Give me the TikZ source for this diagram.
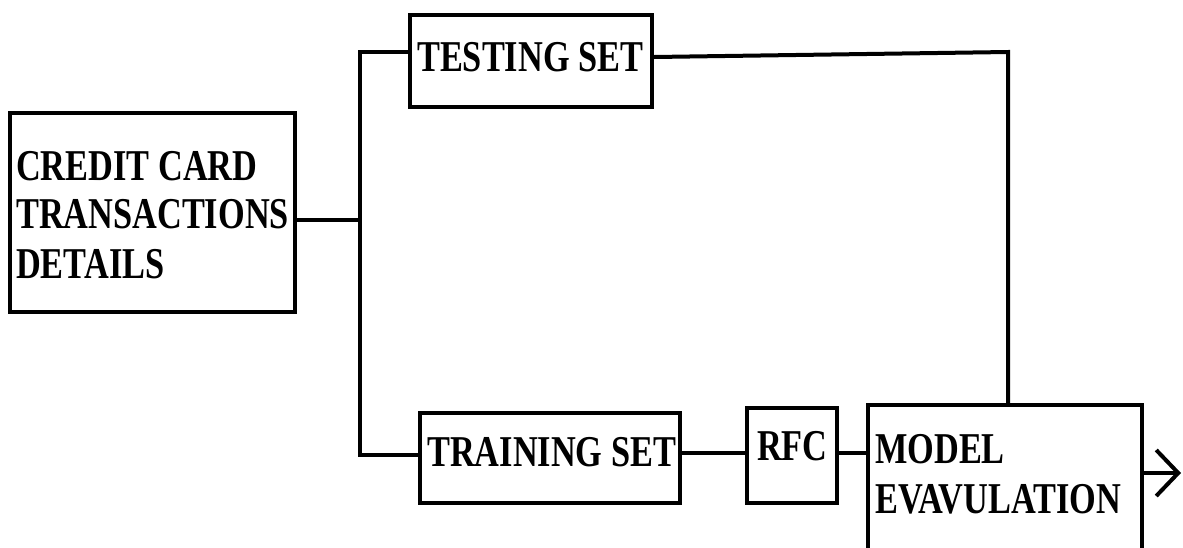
\documentclass[tikz,border=0pt]{standalone}
\usepackage{fontspec}
\newfontfamily\lbl[FakeStretch=0.78]{Liberation Serif}
\usetikzlibrary{arrows.meta}
\begin{document}
\begin{tikzpicture}[x=1pt,y=-1pt,
  box/.style={draw=black,line width=4pt,rectangle,inner sep=0pt},
  lab/.style={anchor=base west,inner sep=0pt,font=\lbl\bfseries\fontsize{44}{49}\selectfont},
  wire/.style={draw=black,line width=4pt}]
\useasboundingbox (0,0) rectangle (1183,547);
% boxes
\node[box,minimum width=285pt,minimum height=199pt] (credit) at (152.5,212.5) {};
\node[box,minimum width=242pt,minimum height=92pt] (test) at (531,61) {};
\node[box,minimum width=260pt,minimum height=90pt] (train) at (550,458) {};
\node[box,minimum width=90pt,minimum height=95pt] (rfc) at (792,455.5) {};
\node[box,minimum width=274pt,minimum height=150pt] (model) at (1005,480) {};
% labels
\node[lab] (c1) at (16,180) {CREDIT CARD};
\node[lab] (c2) at (16,228.5) {TRANSACTIONS};
\node[lab] (c3) at (16,278) {DETAILS};
\node[lab] (tl) at (417,71.5) {TESTING SET};
\node[lab] (trl) at (427,466) {TRAINING SET};
\node[lab] (rl) at (757,460) {RFC};
\node[lab] (m1) at (875,463) {MODEL};
\node[lab] (m2) at (875,513) {EVAVULATION};
% junctions
\coordinate (jm) at (360,220);
\coordinate (jt) at (360,52);
\coordinate (jb) at (360,455);
\coordinate (jr) at (1008,52);
\coordinate (ts) at (0,57);
\coordinate (lo) at (0,453);
\coordinate (ao) at (0,473);
\coordinate (out) at (1181,473);
% connectors
\draw[wire] (credit.east |- jm) -- (jm);
\draw[wire,line cap=rect] (jt) -- (jb);
\draw[wire] (jt) -- (test.west |- jt);
\draw[wire] (jb) -- (train.west |- jb);
\draw[wire,line join=miter] (test.east |- ts) -- (jr) -- (model.north -| jr);
\draw[wire] (train.east |- lo) -- (rfc.west |- lo);
\draw[wire] (rfc.east |- lo) -- (model.west |- lo);
\draw[wire,-{Straight Barb[length=22pt,width=46pt,line width=4pt]}] (model.east |- ao) -- (out);
\end{tikzpicture}
\end{document}
